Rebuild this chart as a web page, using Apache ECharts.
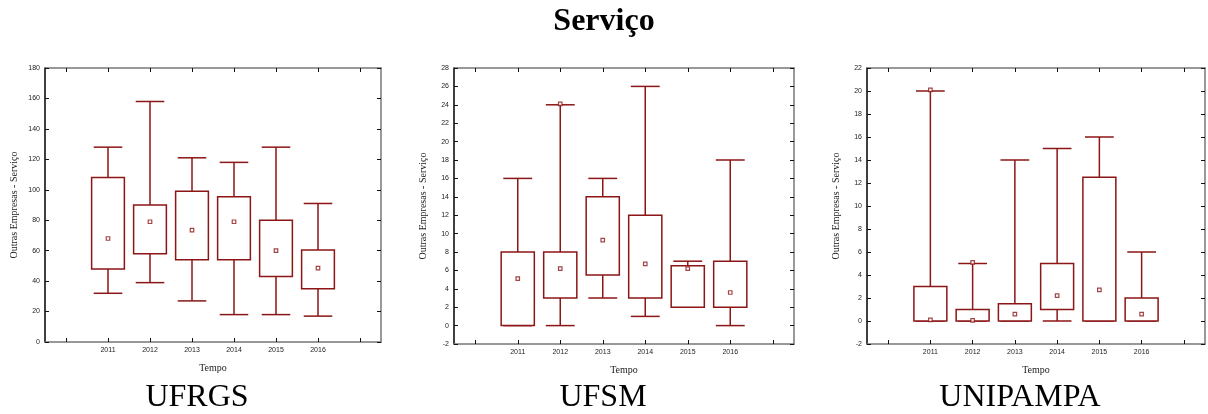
<!DOCTYPE html>
<html>
<head>
<meta charset="utf-8">
<script src="https://cdn.jsdelivr.net/npm/echarts@6/dist/echarts.min.js"></script>
<style>
html,body{margin:0;padding:0;background:#fff;}
#chart{width:1208px;height:414px;}
</style>
</head>
<body>
<div id="chart"></div>
<script>
// ---- Data ----
const years = ['2011', '2012', '2013', '2014', '2015', '2016'];
const categories = [''].concat(years, [' ']);
const panelNames = ['UFRGS', 'UFSM', 'UNIPAMPA'];

// UFRGS
const ufrgsMin   = [32, 39, 27, 18, 18, 17];
const ufrgsQ1    = [48, 58, 54, 54, 43, 35];
const ufrgsQ3    = [108, 90, 99, 95.5, 80, 60.5];
const ufrgsMax   = [128, 158, 121, 118, 128, 91];
const ufrgsPoint = [68, 79, 73.5, 79, 60, 48.5];
const ufrgsExtra = [];
const ufrgsTicks = [0, 180, 20];

// UFSM
const ufsmMin   = [0, 0, 3, 1, 2, 0];
const ufsmQ1    = [0, 3, 5.5, 3, 2, 2];
const ufsmQ3    = [8, 8, 14, 12, 6.5, 7];
const ufsmMax   = [16, 24, 16, 26, 7, 18];
const ufsmPoint = [5.1, 6.2, 9.3, 6.7, 6.2, 3.6];
const ufsmExtra = [['2012', 24.1]];
const ufsmTicks = [-2, 28, 2];

// UNIPAMPA
const uniMin   = [0, 0, 0, 0, 0, 0];
const uniQ1    = [0, 0, 0, 1, 0, 0];
const uniQ3    = [3, 1, 1.5, 5, 12.5, 2];
const uniMax   = [20, 5, 14, 15, 16, 6];
const uniPoint = [0.1, 0.05, 0.6, 2.2, 2.7, 0.6];
const uniExtra = [['2011', 20.1], ['2012', 5.1]];
const uniTicks = [-2, 22, 2];

const panels = [
  {min: ufrgsMin, q1: ufrgsQ1, q3: ufrgsQ3, max: ufrgsMax, pt: ufrgsPoint, extra: ufrgsExtra, ticks: ufrgsTicks},
  {min: ufsmMin, q1: ufsmQ1, q3: ufsmQ3, max: ufsmMax, pt: ufsmPoint, extra: ufsmExtra, ticks: ufsmTicks},
  {min: uniMin, q1: uniQ1, q3: uniQ3, max: uniMax, pt: uniPoint, extra: uniExtra, ticks: uniTicks}
];

// ---- Layout / style ----
const RED = '#8c1515';
const grids = [
  {left: 45, top: 68, width: 336, height: 274},
  {left: 454, top: 68, width: 340, height: 276},
  {left: 867, top: 68, width: 338, height: 276}
];
const subX = [197, 603, 1020];
const SANS = 'Liberation Sans, Arial, sans-serif';
const SERIF = 'Liberation Serif, Times New Roman, serif';

function renderBox(params, api) {
  const x = api.value(0);
  const lo = api.coord([x, api.value(1)]);
  const q1 = api.coord([x, api.value(2)]);
  const q3 = api.coord([x, api.value(3)]);
  const hi = api.coord([x, api.value(4)]);
  const band = api.size([1, 0])[0];
  const bw = band * 0.78;
  const cw = band * 0.68;
  const cx = q1[0];
  const st = {stroke: RED, lineWidth: 1.5, fill: null};
  return {
    type: 'group',
    children: [
      {type: 'line', shape: {x1: cx, y1: q3[1], x2: cx, y2: hi[1]}, style: st},
      {type: 'line', shape: {x1: cx, y1: lo[1], x2: cx, y2: q1[1]}, style: st},
      {type: 'line', shape: {x1: cx - cw / 2, y1: hi[1], x2: cx + cw / 2, y2: hi[1]}, style: st},
      {type: 'line', shape: {x1: cx - cw / 2, y1: lo[1], x2: cx + cw / 2, y2: lo[1]}, style: st},
      {type: 'rect', shape: {x: cx - bw / 2, y: q3[1], width: bw, height: q1[1] - q3[1]},
       style: {stroke: RED, lineWidth: 1.5, fill: '#fff'}}
    ]
  };
}

const xAxes = [], yAxes = [], series = [];
panels.forEach((p, i) => {
  const [ymin, ymax, step] = p.ticks;
  xAxes.push({
    type: 'category', gridIndex: i, data: categories, boundaryGap: true, position: 'bottom',
    axisLine: {show: true, onZero: false, lineStyle: {color: '#777', width: 1.5}},
    axisTick: {show: true, inside: true, alignWithLabel: true, interval: 0, length: 4, lineStyle: {color: '#111'}},
    axisLabel: {fontSize: 7, fontFamily: SANS, color: '#222', margin: 5, interval: 0},
    splitLine: {show: false},
    name: 'Tempo', nameLocation: 'middle', nameGap: 21,
    nameTextStyle: {fontSize: 10, fontFamily: SERIF, color: '#222'}
  });
  xAxes.push({
    type: 'category', gridIndex: i, data: categories, boundaryGap: true, position: 'top',
    axisLine: {show: true, onZero: false, lineStyle: {color: '#777', width: 1.5}},
    axisTick: {show: true, inside: true, alignWithLabel: true, interval: 0, length: 4, lineStyle: {color: '#111'}},
    axisLabel: {show: false}, splitLine: {show: false}
  });
  yAxes.push({
    type: 'value', gridIndex: i, min: ymin, max: ymax, interval: step, position: 'left',
    axisLine: {show: true, onZero: false, lineStyle: {color: '#000', width: 1.5}},
    axisTick: {show: true, inside: true, length: 4, lineStyle: {color: '#111'}},
    axisLabel: {fontSize: 7, fontFamily: SANS, color: '#222', margin: 5},
    splitLine: {show: false},
    name: 'Outras Empresas - Serviço', nameLocation: 'middle', nameGap: 26,
    nameTextStyle: {fontSize: 10, fontFamily: SERIF, color: '#222'}
  });
  yAxes.push({
    type: 'value', gridIndex: i, min: ymin, max: ymax, interval: step, position: 'right',
    axisLine: {show: true, onZero: false, lineStyle: {color: '#777', width: 1.5}},
    axisTick: {show: true, inside: true, length: 4, lineStyle: {color: '#111'}},
    axisLabel: {show: false}, splitLine: {show: false}
  });
  series.push({
    type: 'custom', xAxisIndex: 2 * i, yAxisIndex: 2 * i,
    renderItem: renderBox,
    encode: {x: 0, y: [1, 2, 3, 4]},
    data: years.map((y, k) => [y, p.min[k], p.q1[k], p.q3[k], p.max[k]]),
    silent: true, animation: false
  });
  series.push({
    type: 'scatter', xAxisIndex: 2 * i, yAxisIndex: 2 * i,
    symbol: 'rect', symbolSize: 3.5,
    itemStyle: {color: '#fff', borderColor: RED, borderWidth: 1.2},
    data: years.map((y, k) => [y, p.pt[k]]).concat(p.extra),
    silent: true, animation: false, z: 5
  });
});

const graphics = [
  {type: 'text', x: 604, y: 22, style: {text: 'Serviço', font: 'bold 32px ' + SERIF, fill: '#000', textAlign: 'center', textVerticalAlign: 'middle'}}
];
panelNames.forEach((n, i) => {
  graphics.push({type: 'text', x: subX[i], y: 398, style: {text: n, font: '32px ' + SERIF, fill: '#000', textAlign: 'center', textVerticalAlign: 'middle'}});
});

const chart = echarts.init(document.getElementById('chart'), null, {renderer: 'canvas'});
chart.setOption({
  animation: false,
  backgroundColor: '#fff',
  grid: grids,
  xAxis: xAxes,
  yAxis: yAxes,
  series: series,
  graphic: graphics
});
</script>
</body>
</html>
